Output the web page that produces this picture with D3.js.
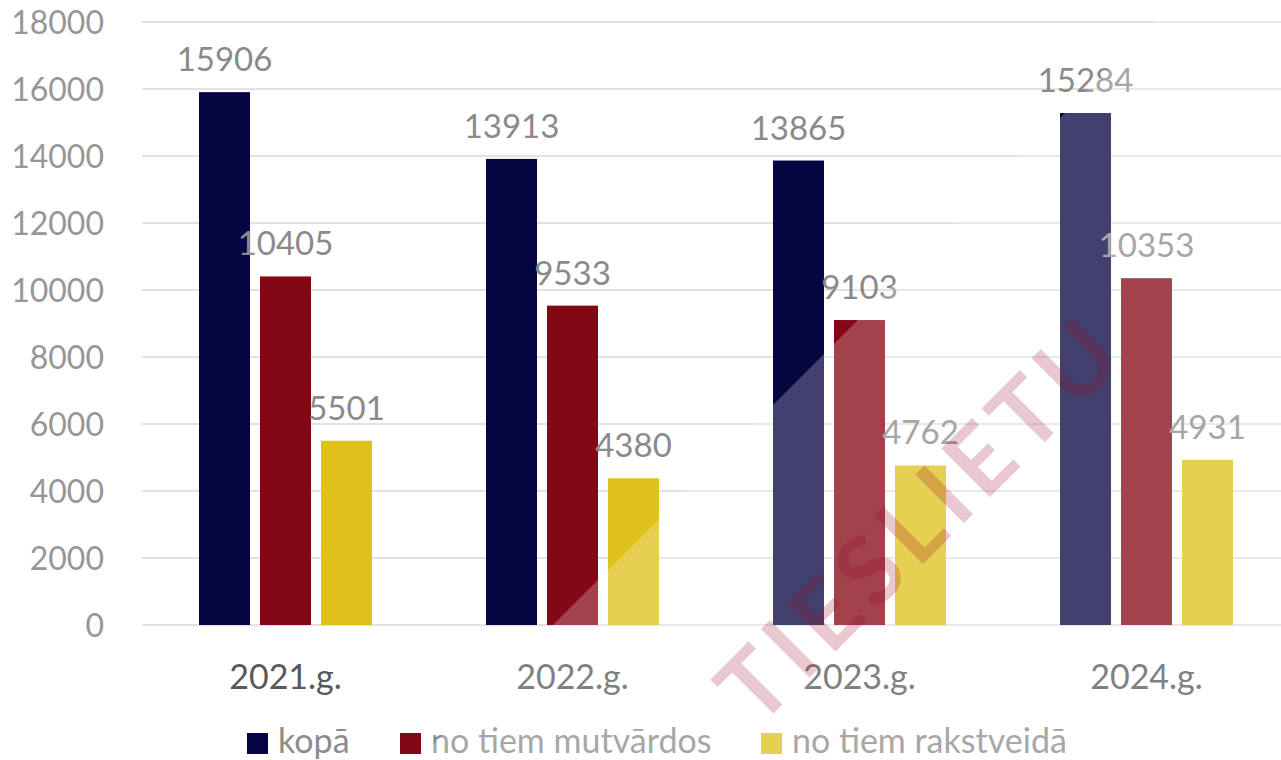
<!DOCTYPE html>
<html>
<head>
<meta charset="utf-8">
<script src="https://cdn.jsdelivr.net/npm/d3@7"></script>
<style>
  body { margin: 0; background: #fff; }
  svg { display: block; font-family: Lato, "Open Sans", sans-serif; }
</style>
</head>
<body>
<script>
var years = ["2021.g.", "2022.g.", "2023.g.", "2024.g."];
var seriesNames = ["kopā", "no tiem mutvārdos", "no tiem rakstveidā"];
var kopa = [15906, 13913, 13865, 15284];
var mutvardos = [10405, 9533, 9103, 10353];
var rakstveida = [5501, 4380, 4762, 4931];
var yTicks = [0, 2000, 4000, 6000, 8000, 10000, 12000, 14000, 16000, 18000];

function main() {
    var width = 1281, height = 760;
    var colors = ["#070442", "#840716", "#dfc11b"];
    var values = [kopa, mutvardos, rakstveida];

    var svg = d3.select("body").append("svg")
        .attr("width", width).attr("height", height);

    var y = d3.scaleLinear().domain([0, 18000]).range([625, 22]);
    var x0 = d3.scaleBand().domain(years).range([142, 1290]);
    var x1 = d3.scaleBand().domain(d3.range(3))
        .range([x0.bandwidth() / 2 - 91.5, x0.bandwidth() / 2 + 91.5])
        .paddingInner(10 / 61).paddingOuter(5 / 61);

    // gridlines
    svg.append("g").selectAll("line")
        .data(yTicks)
        .enter()
        .append("line")
        .attr("x1", 142).attr("x2", width)
        .attr("y1", function(d) { return y(d); })
        .attr("y2", function(d) { return y(d); })
        .attr("stroke", "#e2e2e2")
        .attr("stroke-width", 2);

    // y tick labels
    svg.append("g").selectAll("text")
        .data(yTicks)
        .enter()
        .append("text")
        .text(function(d) { return d; })
        .attr("x", 104)
        .attr("y", function(d) { return y(d); })
        .attr("dy", "0.36em")
        .attr("text-anchor", "end")
        .attr("font-size", "32px")
        .attr("fill", "#979797");

    var rows = [];
    years.forEach(function(yr, i) {
        for (var s = 0; s < 3; s++) rows.push({ year: yr, s: s, v: values[s][i] });
    });

    svg.append("g").selectAll("rect")
        .data(rows)
        .enter()
        .append("rect")
        .attr("x", function(d) { return x0(d.year) + x1(d.s); })
        .attr("y", function(d) { return y(d.v); })
        .attr("width", x1.bandwidth())
        .attr("height", function(d) { return y(0) - y(d.v); })
        .attr("fill", function(d) { return colors[d.s]; });

    svg.append("g").selectAll("text")
        .data(rows)
        .enter()
        .append("text")
        .text(function(d) { return d.v; })
        .attr("x", function(d) { return x0(d.year) + x1(d.s) + x1.bandwidth() / 2; })
        .attr("y", function(d) { return y(d.v) - 21; })
        .attr("text-anchor", "middle")
        .attr("font-size", "33px")
        .attr("fill", "#8a8a8a");

    // category labels
    svg.append("g").selectAll("text")
        .data(years)
        .enter()
        .append("text")
        .text(function(d) { return d; })
        .attr("x", function(d) { return x0(d) + x0.bandwidth() / 2; })
        .attr("y", 689)
        .attr("text-anchor", "middle")
        .attr("font-size", "34px")
        .attr("fill", "#595959");

    // legend
    var legendX = [247, 400, 761];
    var leg = svg.append("g").selectAll("g")
        .data(seriesNames)
        .enter()
        .append("g")
        .attr("transform", function(d, i) { return "translate(" + legendX[i] + ",733)"; });
    leg.append("rect")
        .attr("width", 21).attr("height", 21)
        .attr("fill", function(d, i) { return colors[i]; });
    leg.append("text")
        .text(function(d) { return d; })
        .attr("x", 31).attr("y", 20)
        .attr("font-size", "34px")
        .attr("fill", "#8c8c8c");

    // watermark
    svg.append("polygon")
        .attr("points", "1178,0 1281,0 1281,760 418,760")
        .attr("fill", "#fff")
        .attr("fill-opacity", 0.24);
    svg.append("text")
        .text("TIESLIETU")
        .attr("transform", "translate(918,522) rotate(-45)")
        .attr("text-anchor", "middle")
        .attr("dy", "0.35em")
        .attr("font-size", "95px")
        .attr("font-weight", 700)
        .attr("textLength", 520)
        .attr("lengthAdjust", "spacing")
        .attr("fill", "#9a0a24")
        .attr("fill-opacity", 0.22);
}

window.onload = main;
</script>
</body>
</html>
